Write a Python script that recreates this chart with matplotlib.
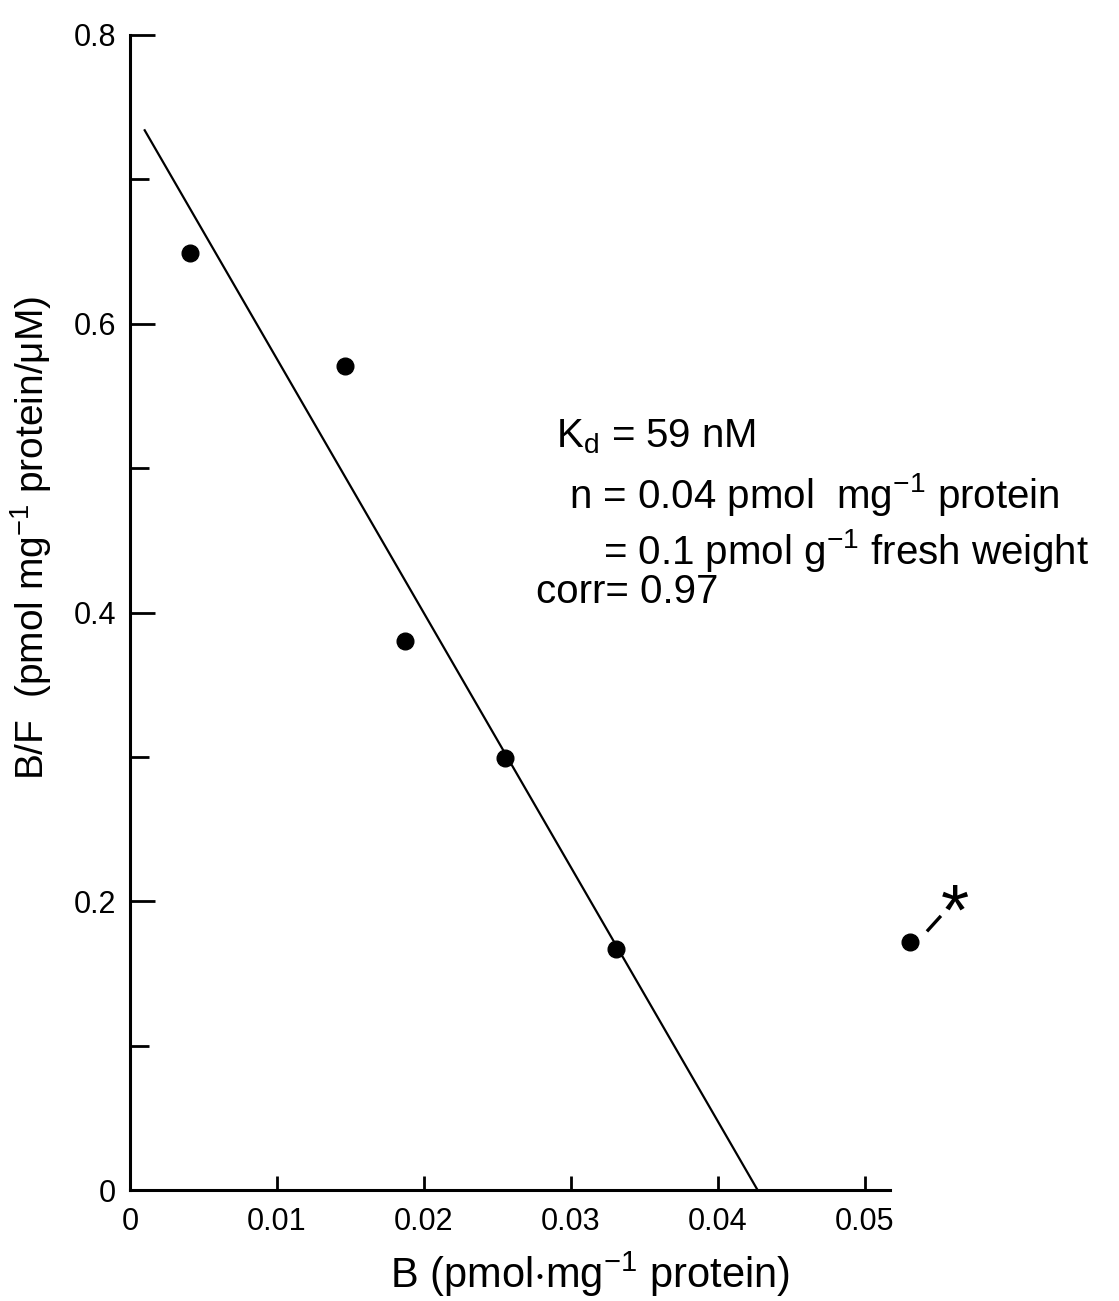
import matplotlib
matplotlib.use("Agg")
import matplotlib.pyplot as plt
import numpy as np

plt.rcParams['font.family'] = ['Liberation Sans', 'DejaVu Sans']
plt.rcParams['mathtext.default'] = 'regular'

# Scatchard data
B = [0.0041, 0.0146, 0.0187, 0.0255, 0.0331, 0.0531]
BF = [0.649, 0.571, 0.380, 0.299, 0.167, 0.172]

# regression line end points
fit_B = [0.001, 0.0427]
fit_BF = [0.734, 0.0]

yticks = [0, 0.2, 0.4, 0.6, 0.8]
yticklabels = ['0', '0.2', '0.4', '0.6', '0.8']
yminor = [0.1, 0.3, 0.5, 0.7]
xticks = [0, 0.01, 0.02, 0.03, 0.04, 0.05]
xticklabels = ['0', '0.01', '0.02', '0.03', '0.04', '0.05']

fig = plt.figure(figsize=(11.19, 13.01), dpi=100)
ax = fig.add_axes([130/1119, 111/1301, 970/1119, 1155/1301])

ax.plot(fit_B, fit_BF, color='black', lw=1.6)
ax.plot(B, BF, 'o', color='black', ms=12, clip_on=False)

ax.set_xlim(0, 0.066)
ax.set_ylim(0, 0.8)

for s in ['top', 'right']:
    ax.spines[s].set_visible(False)
ax.spines['left'].set_linewidth(2.2)
ax.spines['bottom'].set_linewidth(2.2)
ax.spines['bottom'].set_bounds(0, 0.0517)

ax.set_yticks(yticks)
ax.set_yticklabels(yticklabels)
ax.set_yticks(yminor, minor=True)
ax.set_xticks(xticks)
ax.set_xticklabels(xticklabels)
ax.tick_params(axis='y', which='major', direction='in', length=18, width=2, labelsize=22, pad=10)
ax.tick_params(axis='y', which='minor', direction='in', length=14, width=2)
ax.tick_params(axis='x', which='major', direction='in', length=10, width=2, labelsize=22, pad=12)
ax.xaxis.get_major_ticks()[0].tick1line.set_visible(False)

ax.set_xlabel('B (pmol$\\cdot$mg$^{-1}$ protein)', fontsize=30)
ax.xaxis.set_label_coords(0.474, -0.052)
ax.set_ylabel('B/F  (pmol mg$^{-1}$ protein/$\\mu$M)', fontsize=28)
ax.yaxis.set_label_coords(-0.078, 0.565)

txt = dict(fontsize=29, va='center', ha='left')
ax.text(0.0290, 0.522, 'K$_{d}$ = 59 nM', **txt)
ax.text(0.0299, 0.482, 'n = 0.04 pmol  mg$^{-1}$ protein', **txt)
ax.text(0.0322, 0.443, '= 0.1 pmol g$^{-1}$ fresh weight', **txt)
ax.text(0.0276, 0.414, 'corr= 0.97', **txt)

# asterisk marking the excluded point, with its short dashed pointer
ax.text(B[5] + 0.0030, BF[5] + 0.018, '*', fontsize=52, ha='center', va='center')
ax.plot([B[5] + 0.0012, B[5] + 0.0020], [BF[5] + 0.008, BF[5] + 0.017],
        color='black', lw=2.4, clip_on=False)

fig.savefig('out.png', dpi=100)
